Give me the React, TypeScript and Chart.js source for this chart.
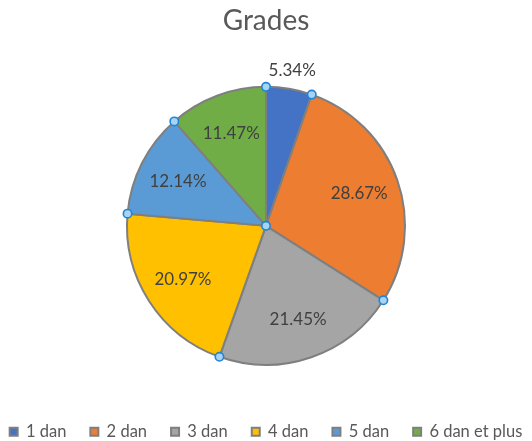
import React, { useEffect, useRef } from "react";
import { Chart, registerables } from "chart.js";

Chart.register(...registerables);

const categories = ["1 dan", "2 dan", "3 dan", "4 dan", "5 dan", "6 dan et plus"];
const shares = [5.34, 28.67, 21.45, 20.97, 12.14, 11.47];
const colors = ["#4472C4", "#ED7D31", "#A5A5A5", "#FFC000", "#5B9BD5", "#70AD47"];
const titleText = "Grades";
const FONT = "Lato, 'Open Sans', sans-serif";

const labelPlugin = {
  id: "sliceLabels",
  afterDatasetsDraw(chart: any) {
    const meta = chart.getDatasetMeta(0);
    const ctx = chart.ctx;
    ctx.save();
    ctx.font = `17px ${FONT}`;
    ctx.fillStyle = "#404040";
    ctx.textAlign = "center";
    ctx.textBaseline = "middle";
    meta.data.forEach((arc: any, i: number) => {
      const p = arc.getProps(["x", "y", "startAngle", "endAngle", "outerRadius"], true);
      const mid = (p.startAngle + p.endAngle) / 2;
      const frac = shares[i] < 8 ? 1.13 : 0.71;
      const r = p.outerRadius * frac;
      ctx.fillText(shares[i].toFixed(2) + "%", p.x + Math.cos(mid) * r, p.y + Math.sin(mid) * r);
    });
    ctx.restore();
  },
  afterDraw(chart: any) {
    const meta = chart.getDatasetMeta(0);
    const ctx = chart.ctx;
    const pts: [number, number][] = [];
    let cx = 0, cy = 0;
    meta.data.forEach((arc: any) => {
      const p = arc.getProps(["x", "y", "startAngle", "outerRadius"], true);
      cx = p.x; cy = p.y;
      pts.push([p.x + Math.cos(p.startAngle) * p.outerRadius, p.y + Math.sin(p.startAngle) * p.outerRadius]);
    });
    pts.push([cx, cy]);
    ctx.save();
    pts.forEach(([x, y]) => {
      ctx.beginPath();
      ctx.arc(x, y, 4.2, 0, Math.PI * 2);
      ctx.fillStyle = "#a9d2f3";
      ctx.fill();
      ctx.lineWidth = 1.6;
      ctx.strokeStyle = "#1d86d8";
      ctx.stroke();
    });
    ctx.restore();
  },
};

export default function App() {
  const ref = useRef<HTMLCanvasElement>(null);
  useEffect(() => {
    if (!ref.current) return;
    const chart = new Chart(ref.current, {
      type: "pie",
      data: {
        labels: categories,
        datasets: [
          {
            data: shares,
            backgroundColor: colors,
            borderColor: "#7f7f7f",
            borderWidth: 2,
            radius: 139,
          } as any,
        ],
      },
      options: {
        animation: false,
        responsive: true,
        maintainAspectRatio: false,
        layout: { padding: { top: 0, left: -30, right: -30, bottom: -9 } },
        plugins: {
          title: {
            display: true,
            text: titleText,
            color: "#595959",
            font: { family: FONT, size: 28, weight: "normal" },
            padding: { top: 4, bottom: 14.6 },
          },
          legend: {
            position: "bottom",
            labels: {
              color: "#595959",
              font: { family: FONT, size: 16.5 },
              boxWidth: 8,
              boxHeight: 8,
              padding: 24,
            },
          },
          tooltip: { enabled: false },
        },
      },
      plugins: [labelPlugin],
    });
    return () => chart.destroy();
  }, []);
  return (
    <div style={{ position: "fixed", left: 0, top: 0, width: 532, height: 441, background: "#fff" }}>
      <canvas ref={ref} />
    </div>
  );
}
